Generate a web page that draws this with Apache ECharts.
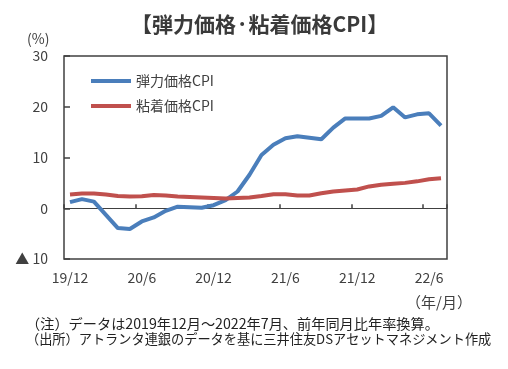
<!DOCTYPE html>
<html><head><meta charset="utf-8">
<script src="https://cdn.jsdelivr.net/npm/echarts@6/dist/echarts.min.js"></script>
<style>html,body{margin:0;padding:0;background:#fff}#c{width:508px;height:369px}</style>
</head><body><div id="c"></div>
<script>
var categories = ['19/12','20/1','20/2','20/3','20/4','20/5','20/6','20/7','20/8','20/9','20/10','20/11','20/12',
  '21/1','21/2','21/3','21/4','21/5','21/6','21/7','21/8','21/9','21/10','21/11','21/12',
  '22/1','22/2','22/3','22/4','22/5','22/6','22/7'];
var flexibleCPI = [1.2,1.8,1.3,-1.3,-3.9,-4.1,-2.6,-1.8,-0.5,0.3,0.2,0.1,0.6,1.6,3.3,6.6,10.5,12.5,13.8,14.2,13.9,13.6,15.9,17.7,17.7,17.7,18.2,19.9,17.9,18.5,18.7,16.3];
var stickyCPI = [2.7,2.9,2.9,2.7,2.4,2.3,2.35,2.6,2.5,2.3,2.2,2.1,2.0,1.9,2.0,2.1,2.4,2.75,2.75,2.5,2.5,2.95,3.3,3.5,3.7,4.3,4.65,4.85,5.0,5.3,5.7,5.9];
var yTicks = [-10,0,10,20,30];

var font = '"Noto Sans CJK JP", sans-serif';
var txt = '#404040';
var chart = echarts.init(document.getElementById('c'), null, {renderer:'canvas'});
chart.setOption({
  animation:false,
  title:{text:'【弾力価格·粘着価格CPI】', left:126, top:9,
    textStyle:{fontFamily:font, fontSize:21, fontWeight:'bold', color:'#3a3a3a'}},
  grid:{left:64, top:56, right:61, bottom:110, show:true, borderColor:'#404040', borderWidth:1.5, containLabel:false},
  legend:{orient:'vertical', left:86, top:69, itemWidth:40, itemHeight:4, itemGap:11, icon:'rect',
    textStyle:{fontFamily:font, fontSize:14, color:txt},
    data:['弾力価格CPI','粘着価格CPI']},
  xAxis:[{type:'category', data:categories, boundaryGap:true, position:'bottom',
      axisLine:{show:false, onZero:false}, axisTick:{show:false},
      axisLabel:{interval:5, margin:12, fontFamily:font, fontSize:14, color:txt}},
    {type:'category', data:categories, boundaryGap:true, position:'bottom',
      axisLine:{show:true, onZero:true, lineStyle:{color:'#404040', width:1}},
      axisTick:{show:true, inside:true, interval:5, length:4, lineStyle:{color:'#404040', width:1.5}},
      axisLabel:{show:false}}],
  yAxis:{type:'value', min:yTicks[0], max:yTicks[yTicks.length-1], interval:10,
    axisLine:{show:false}, splitLine:{show:false},
    axisTick:{show:true, inside:true, length:6, lineStyle:{color:'#404040', width:1.5}},
    axisLabel:{margin:16, fontFamily:font, fontSize:14, color:txt,
      formatter:function(v){return v<0 ? '▲ '+Math.abs(v) : String(v);}}},
  graphic:[
    {type:'text', left:27, top:32, style:{text:'(%)', fontFamily:font, fontSize:14, fill:txt}},
    {type:'text', left:406, top:295, style:{text:'（年/月）', fontFamily:font, fontSize:15, fill:txt}},
    {type:'text', left:26, top:317, style:{text:'（注）データは2019年12月～2022年7月、前年同月比年率換算。', fontFamily:font, fontSize:14.2, fill:'#222'}},
    {type:'text', left:26, top:332, style:{text:'（出所）アトランタ連銀のデータを基に三井住友DSアセットマネジメント作成', fontFamily:font, fontSize:13.2, fill:'#222'}}
  ],
  series:[
    {name:'弾力価格CPI', type:'line', data:flexibleCPI, xAxisIndex:0, showSymbol:false, symbol:'none',
      lineStyle:{width:4, color:'#4A7EBB'}, itemStyle:{color:'#4A7EBB'}},
    {name:'粘着価格CPI', type:'line', data:stickyCPI, xAxisIndex:0, showSymbol:false, symbol:'none',
      lineStyle:{width:4, color:'#C0504D'}, itemStyle:{color:'#C0504D'}}
  ]
});
</script></body></html>
